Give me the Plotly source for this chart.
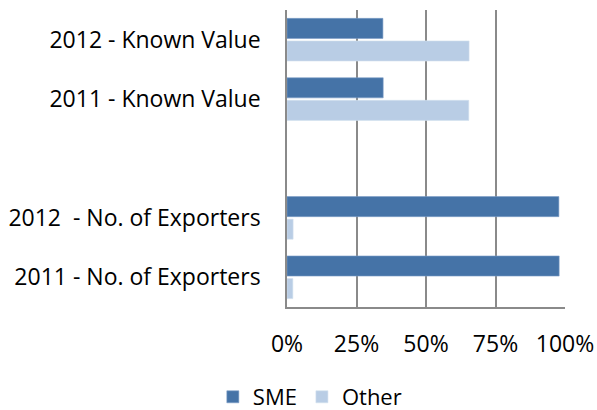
import plotly.graph_objects as go

categories = ["2012 - Known Value", "2011 - Known Value", " ",
              "2012  - No. of Exporters", "2011 - No. of Exporters"]
sme = [34.5, 34.6, None, 97.8, 97.9]
other = [65.5, 65.4, None, 2.2, 2.1]
x_ticks = [0, 25, 50, 75, 100]
x_tick_labels = ["0%", "25%", "50%", "75%", "100%"]

font_family = "'Open Sans', Lato, sans-serif"

fig = go.Figure()
fig.add_trace(go.Bar(y=categories, x=sme, orientation="h", name="SME",
                     marker=dict(color="#4573A7", line=dict(color="#7E9DC7", width=0.6))))
fig.add_trace(go.Bar(y=categories, x=other, orientation="h", name="Other",
                     marker=dict(color="#B9CDE5", line=dict(color="#D4E0EF", width=0.6))))

fig.update_layout(
    width=597, height=410,
    margin=dict(l=287, r=32, t=10, b=103),
    paper_bgcolor="white", plot_bgcolor="white",
    barmode="group", bargap=0.24, bargroupgap=0.11,
    font=dict(family=font_family, size=23, color="black"),
    showlegend=True,
    legend=dict(orientation="h", xref="container", yref="container",
                x=0.519, xanchor="center", y=1 - 397 / 410, yanchor="middle",
                font=dict(size=22), itemwidth=30, traceorder="normal"),
)
fig.update_xaxes(range=[0, 100], tickvals=x_ticks, ticktext=x_tick_labels,
                 showgrid=True, gridcolor="#8A8A8A", gridwidth=1.5,
                 showline=True, linecolor="#8A8A8A", linewidth=1.5,
                 zeroline=False, ticks="", ticklabelstandoff=16, fixedrange=True,
                 automargin=False)
fig.update_yaxes(categoryorder="array", categoryarray=categories, autorange="reversed",
                 showgrid=False, showline=True, linecolor="#8A8A8A", linewidth=1.5,
                 ticks="", ticklabelstandoff=20, fixedrange=True, automargin=False)

fig.write_html("out.html")
